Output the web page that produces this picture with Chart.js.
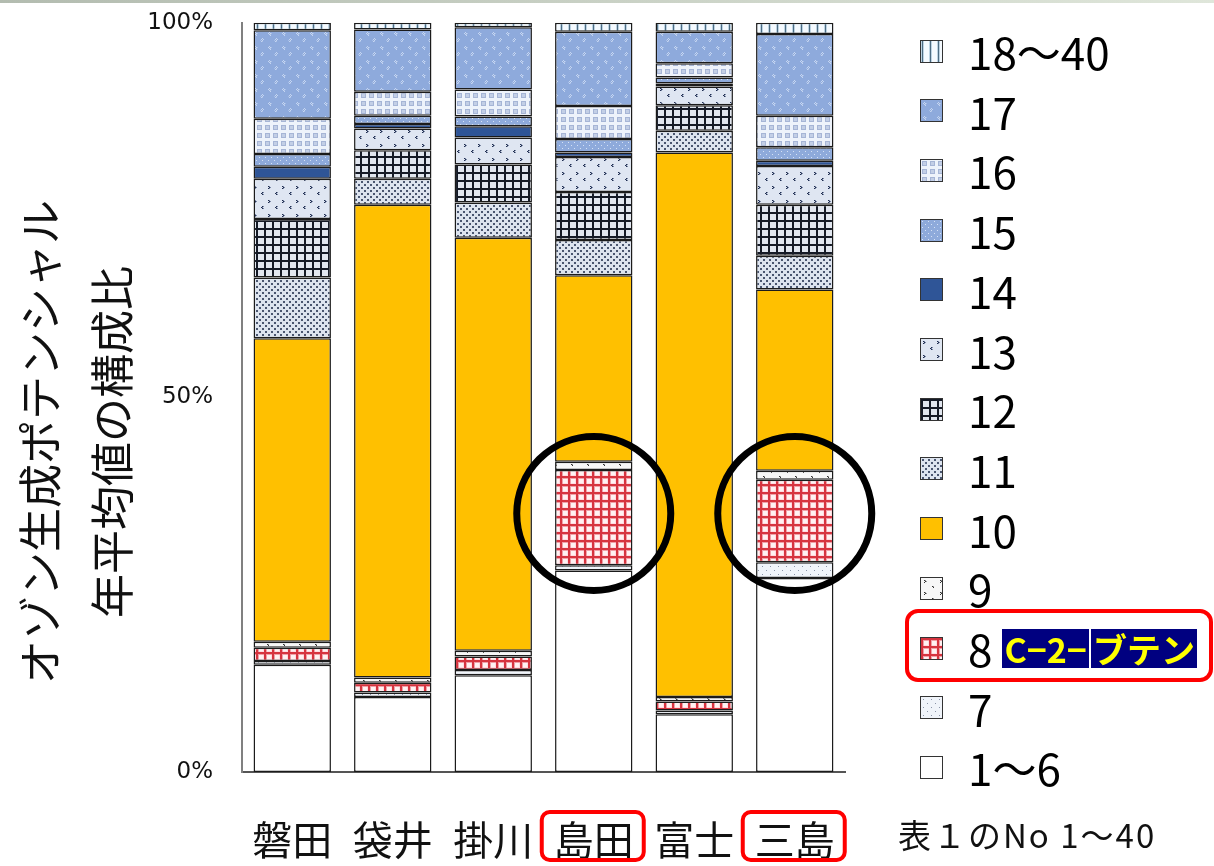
<!DOCTYPE html>
<html lang="ja">
<head>
<meta charset="UTF-8">
<title>オゾン生成ポテンシャル 年平均値の構成比</title>
<script src="https://cdn.jsdelivr.net/npm/chart.js@4.4.1/dist/chart.umd.min.js"></script>
<style>
  body { margin: 0; background: #fff; font-family: "Noto Sans CJK JP", "Noto Sans", sans-serif; }
  #wrap { position: relative; width: 1214px; height: 866px; overflow: hidden; }
  #topline { position: absolute; left: 0; top: 0; width: 100%; height: 3px; background: linear-gradient(90deg, #b3bcb0, #dfe6da); z-index: 2; }
  #chartBox { position: absolute; left: 0; top: -12px; width: 1214px; height: 878px; }
  .ytitle { position: absolute; top: 442px; transform: translate(-50%, -50%) rotate(-90deg);
            font-size: 44px; white-space: nowrap; color: #111; line-height: 1; }
  #legend { position: absolute; left: 920px; top: 0; margin: 0; padding: 0; list-style: none; }
  #legend li { position: absolute; left: 0; height: 60px; display: flex; align-items: center;
               white-space: nowrap; font-size: 44px; color: #000; }
  .sw { width: 21px; height: 21px; border: 1px solid #333; margin-right: 25px; flex: none; }
  .hlbox { position: absolute; left: -15px; top: -9px; width: 308px; height: 73px; box-sizing: border-box;
           border: 4px solid #f00; border-radius: 13px; }
  .tag { background: #000080; color: #ffff00; font-weight: bold; font-size: 34px; line-height: 39px;
         padding: 0 2px; }
  #note { position: absolute; left: 898px; top: 810px; font-size: 33px; letter-spacing: 2px; color: #111; white-space: nowrap; }
</style>
</head>
<body>
<div id="wrap">
  <div id="topline"></div>
  <div id="chartBox"><canvas id="gasChart"></canvas></div>
  <div class="ytitle" style="left:38px">オゾン生成ポテンシャル</div>
  <div class="ytitle" style="left:110px">年平均値の構成比</div>
  <ul id="legend"></ul>
  <div id="note">表１のNo 1～40</div>
</div>
<script>
// 地点
const sites = ['磐田', '袋井', '掛川', '島田', '富士', '三島'];

// 成分グループ別の構成比（%）
const no1to6   = [14.3, 10.0, 12.9, 26.9,  7.7, 25.9];
const no7      = [ 0.5,  0.6,  0.7,  0.7,  0.5,  2.1];
const no8      = [ 1.8,  1.3,  1.8, 12.7,  1.2, 11.0];
const no9      = [ 0.8,  0.7,  0.8,  1.1,  0.6,  1.2];
const no10     = [40.5, 63.1, 55.1, 24.9, 72.7, 24.2];
const no11     = [ 8.1,  3.5,  4.7,  4.7,  2.9,  4.5];
const no12     = [ 7.8,  3.8,  5.1,  6.4,  3.4,  6.8];
const no13     = [ 5.4,  2.9,  3.6,  4.7,  2.5,  5.2];
const no14     = [ 1.6,  0.6,  1.5,  0.6,  0.4,  0.7];
const no15     = [ 1.7,  1.1,  1.3,  1.8,  0.8,  1.8];
const no16     = [ 4.7,  3.2,  3.6,  4.4,  1.9,  4.2];
const no17     = [11.8,  8.3,  8.3,  9.9,  4.2, 10.9];
const no18to40 = [ 1.0,  0.9,  0.6,  1.2,  1.2,  1.5];

const yTicks = [0, 50, 100];

// 丸で囲む地点と、丸の中心の高さ（%）
const highlighted = ['島田', '三島'];
const circleLevel = 34.5;

// ---- 塗りパターン ----
function makeTile(w, h, bg, draw) {
  const c = document.createElement('canvas');
  c.width = w; c.height = h;
  const g = c.getContext('2d');
  g.fillStyle = bg;
  g.fillRect(0, 0, w, h);
  if (draw) draw(g);
  return c;
}
function px(g, color, pts) {
  g.fillStyle = color;
  pts.forEach(p => g.fillRect(p[0], p[1], p[2] || 1, p[3] || 1));
}

const tiles = {
  t18: makeTile(8, 8, '#f4faff', g => {
    px(g, '#bcd3e3', [[0, 0, 3, 8]]);
    px(g, '#4d6c82', [[1, 0, 1, 8]]);
  }),
  t17: makeTile(14, 14, '#8eaadc', g => {
    px(g, '#c6d6f1', [[3, 2], [4, 3], [3, 4], [4, 5], [2, 3], [10, 8], [9, 9], [10, 10], [11, 9], [9, 11]]);
    px(g, '#a9bfe6', [[5, 3], [4, 4], [8, 10], [10, 11]]);
  }),
  t16: makeTile(8, 8, '#eef3fb', g => {
    px(g, '#a6b5d6', [[1, 1, 5, 5]]);
    px(g, '#c3cfe6', [[2, 2, 3, 3]]);
  }),
  t15: makeTile(6, 6, '#8eaadb', g => {
    px(g, '#d6e2f5', [[1, 1], [4, 4]]);
  }),
  t13: makeTile(14, 14, '#dfe6f2', g => {
    px(g, '#1f2d50', [[2, 2], [3, 3], [2, 4], [10, 8], [9, 9], [10, 10]]);
    px(g, '#7a87a3', [[3, 2], [4, 3], [3, 4], [11, 8], [10, 9], [11, 10]]);
  }),
  t12: makeTile(8, 8, '#e1e6ef', g => {
    px(g, '#151a26', [[0, 0, 8, 2], [0, 0, 2, 8]]);
  }),
  t11: makeTile(6, 6, '#dde4ef', g => {
    px(g, '#4a5670', [[1, 1, 2, 2], [4, 4, 2, 2]]);
  }),
  t9: makeTile(16, 12, '#f7f7f7', g => {
    px(g, '#333', [[3, 2], [4, 3], [3, 4], [11, 8], [12, 9]]);
    px(g, '#999', [[4, 2], [5, 3], [12, 8]]);
  }),
  t8: makeTile(8, 8, '#ffdbe0', g => {
    px(g, '#fff2f2', [[3, 3, 4, 4]]);
    px(g, '#f0a0a8', [[0, 2, 8, 1], [2, 0, 1, 8]]);
    px(g, '#d6343f', [[0, 0, 8, 2], [0, 0, 2, 8]]);
  }),
  t7: makeTile(8, 8, '#f0f4fa', g => {
    px(g, '#8a94a8', [[2, 2], [6, 6]]);
  })
};

const probe = document.createElement('canvas').getContext('2d');
const pat = t => probe.createPattern(t, 'repeat');

// 凡例と描画の順（下から積む）
const series = [
  { label: '1～6',   data: no1to6,   fill: '#ffffff' },
  { label: '7',      data: no7,      tile: tiles.t7 },
  { label: '8',      data: no8,      tile: tiles.t8 },
  { label: '9',      data: no9,      tile: tiles.t9 },
  { label: '10',     data: no10,     fill: '#ffc000' },
  { label: '11',     data: no11,     tile: tiles.t11 },
  { label: '12',     data: no12,     tile: tiles.t12 },
  { label: '13',     data: no13,     tile: tiles.t13 },
  { label: '14',     data: no14,     fill: '#2f5597' },
  { label: '15',     data: no15,     tile: tiles.t15 },
  { label: '16',     data: no16,     tile: tiles.t16 },
  { label: '17',     data: no17,     tile: tiles.t17 },
  { label: '18～40', data: no18to40, tile: tiles.t18 }
];

const datasets = series.map(s => ({
  label: s.label,
  data: s.data,
  backgroundColor: s.tile ? pat(s.tile) : s.fill,
  borderColor: '#1b1b1b',
  borderWidth: 1.5,
  borderSkipped: false,
  categoryPercentage: 1,
  barPercentage: 0.77
}));

// 凡例（上から 18～40 … 1～6）
const legendEl = document.getElementById('legend');
series.slice().reverse().forEach((s, i) => {
  const li = document.createElement('li');
  li.style.top = (21 + i * 59.7) + 'px';
  const sw = document.createElement('span');
  sw.className = 'sw';
  if (s.tile) sw.style.backgroundImage = 'url(' + s.tile.toDataURL() + ')';
  else sw.style.background = s.fill;
  li.appendChild(sw);
  const txt = document.createElement('span');
  txt.textContent = s.label;
  li.appendChild(txt);
  if (s.label === '8') {
    txt.style.marginRight = '10px';
    const a = document.createElement('span');
    a.className = 'tag'; a.textContent = 'C−2−';
    const b = document.createElement('span');
    b.className = 'tag'; b.textContent = 'ブテン';
    b.style.marginLeft = '2px';
    li.appendChild(a); li.appendChild(b);
    const box = document.createElement('div');
    box.className = 'hlbox';
    li.appendChild(box);
  }
  legendEl.appendChild(li);
});

// 丸印と地点名の赤枠
const markPlugin = {
  id: 'marks',
  afterDraw(chart) {
    const { ctx, scales: { x, y } } = chart;
    ctx.save();
    highlighted.forEach(name => {
      const i = sites.indexOf(name);
      const cx = x.getPixelForValue(i);
      ctx.beginPath();
      ctx.arc(cx, y.getPixelForValue(circleLevel), 77, 0, Math.PI * 2);
      ctx.lineWidth = 7;
      ctx.strokeStyle = '#000';
      ctx.stroke();

      ctx.beginPath();
      ctx.roundRect(cx - 52, y.bottom + 40, 102, 48, 8);
      ctx.lineWidth = 4;
      ctx.strokeStyle = '#ff0000';
      ctx.stroke();
    });
    ctx.restore();
  }
};

new Chart(document.getElementById('gasChart').getContext('2d'), {
  type: 'bar',
  data: { labels: sites, datasets: datasets },
  options: {
    responsive: true,
    maintainAspectRatio: false,
    animation: false,
    layout: { autoPadding: false, padding: { left: 100, top: 23, right: 369, bottom: 0 } },
    plugins: { legend: { display: false }, tooltip: { enabled: false } },
    scales: {
      x: {
        stacked: true,
        grid: { display: false },
        border: { display: true, color: '#555', width: 2 },
        ticks: { color: '#111', padding: 36, font: { family: '"Noto Sans CJK JP"', size: 40 } },
        afterFit: s => { s.height = 94; }
      },
      y: {
        stacked: true,
        min: 0,
        max: 100,
        grid: { display: false },
        border: { display: true, color: '#808080', width: 2 },
        afterBuildTicks: s => { s.ticks = yTicks.map(v => ({ value: v })); },
        ticks: {
          color: '#111',
          padding: 21,
          font: { family: '"DejaVu Sans"', size: 23 },
          callback: v => v + '%'
        },
        afterFit: s => { s.width = 142; }
      }
    }
  },
  plugins: [markPlugin]
});
</script>
</body>
</html>
